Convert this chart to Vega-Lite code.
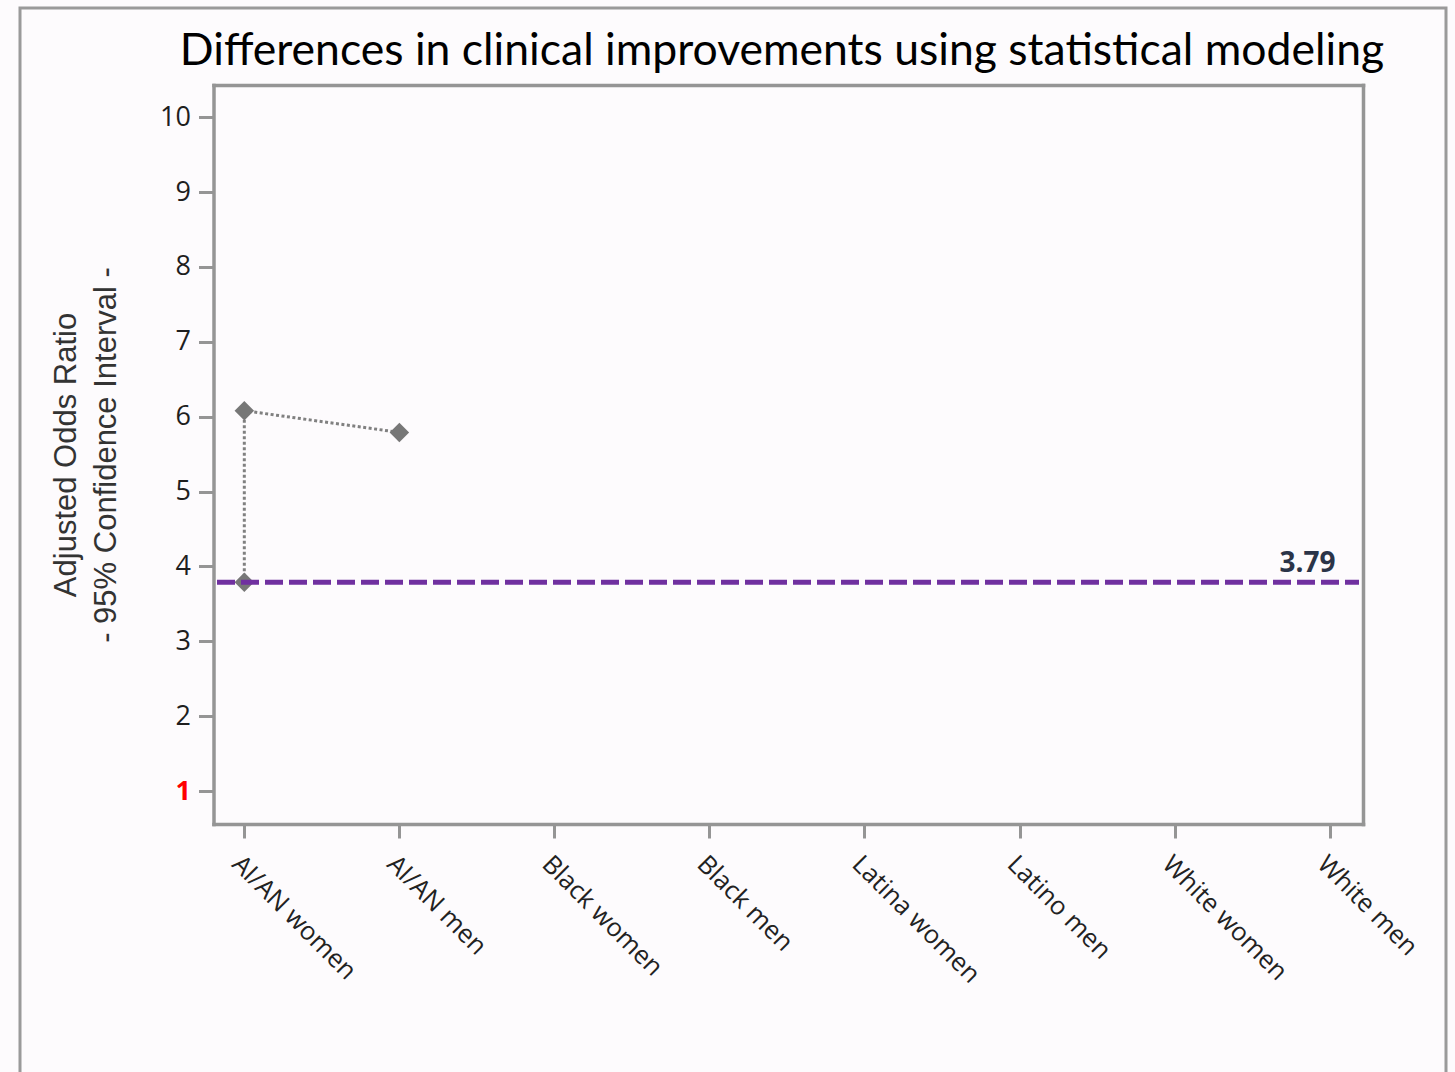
{
  "$schema": "https://vega.github.io/schema/vega-lite/v6.json",
  "width": 1426,
  "height": 1067,
  "autosize": "none",
  "padding": {"left": 20, "top": 8, "right": 9, "bottom": -3},
  "background": "#fdfbfd",
  "title": {
    "text": "Differences in clinical improvements using statistical modeling",
    "font": "Lato",
    "fontSize": 44.5,
    "fontWeight": "normal",
    "color": "#000000",
    "anchor": "middle",
    "frame": "group",
    "baseline": "alphabetic",
    "offset": -55,
    "dy": 46,
    "dx": 49
  },
  "datasets": {
    "estimates": [
      {"group": "AI/AN women", "aor": 3.79, "seq": 1},
      {"group": "AI/AN women", "aor": 6.08, "seq": 2},
      {"group": "AI/AN men", "aor": 5.79, "seq": 3}
    ],
    "reference": [
      {"label": "3.79", "aor": 3.79, "group": "White men"}
    ]
  },
  "resolve": {"scale": {"x": "independent"}, "axis": {"x": "independent", "y": "independent"}},
  "layer": [
    {
      "data": {"name": "estimates"},
      "mark": {"type": "line", "color": "#808080", "strokeWidth": 3, "strokeDash": [3, 2.5]},
      "encoding": {
        "x": {
          "field": "group", "type": "nominal", "sort": null,
          "scale": {
            "type": "point",
            "domain": ["AI/AN women", "AI/AN men", "Black women", "Black men", "Latina women", "Latino men", "White women", "White men"],
            "range": [193.5, 1343], "padding": 0.207, "align": 0.48
          },
          "axis": {
            "orient": "bottom", "offset": -251, "title": null,
            "labelAngle": 45, "labelAlign": "left", "labelBaseline": "top",
            "labelFont": "Open Sans", "labelFontSize": 25.5, "labelColor": "#222222", "labelPadding": 13,
            "tickSize": 14, "tickWidth": 3, "tickColor": "#959595",
            "domainColor": "#959595", "domainWidth": 3.5, "domainCap": "square", "grid": false
          }
        },
        "y": {
          "field": "aor", "type": "quantitative",
          "scale": {"domain": [0.56, 10.43], "range": [816, 77], "nice": false, "zero": false},
          "axis": {
            "orient": "left", "offset": -193.5,
            "values": [1, 2, 3, 4, 5, 6, 7, 8, 9, 10],
            "title": ["Adjusted Odds Ratio", "- 95% Confidence Interval -"],
            "titleFont": "Liberation Sans", "titleFontSize": 31, "titleFontWeight": "normal",
            "titleColor": "#333333", "titleLineHeight": 40, "titlePadding": 37,
            "labelFont": "Open Sans", "labelFontSize": 27, "labelPadding": 8,
            "labelColor": {"expr": "datum.value === 1 ? '#ff0000' : '#1e1e1e'"},
            "labelFontWeight": {"expr": "datum.value === 1 ? 'bold' : 'normal'"},
            "tickSize": 15, "tickWidth": 3, "tickColor": "#959595",
            "domainColor": "#959595", "domainWidth": 3.5, "domainCap": "square", "grid": false
          }
        },
        "order": {"field": "seq"}
      }
    },
    {
      "data": {"name": "estimates"},
      "mark": {"type": "point", "shape": "diamond", "filled": true, "size": 380, "color": "#777777", "opacity": 1},
      "encoding": {
        "x": {
          "field": "group", "type": "nominal", "sort": null,
          "scale": {
            "type": "point",
            "domain": ["AI/AN women", "AI/AN men", "Black women", "Black men", "Latina women", "Latino men", "White women", "White men"],
            "range": [193.5, 1343], "padding": 0.207, "align": 0.48
          },
          "axis": {
            "orient": "top", "offset": -77, "title": null, "labels": false, "ticks": false,
            "domainColor": "#959595", "domainWidth": 3.5, "domainCap": "square", "grid": false
          }
        },
        "y": {
          "field": "aor", "type": "quantitative",
          "axis": {
            "orient": "right", "offset": -83, "title": null, "labels": false, "ticks": false,
            "domainColor": "#959595", "domainWidth": 3.5, "domainCap": "square", "grid": false
          }
        }
      }
    },
    {
      "data": {"name": "reference"},
      "mark": {"type": "rule", "color": "#7030a0", "strokeWidth": 5, "strokeDash": [18, 6]},
      "encoding": {
        "x": {"datum": 0, "type": "quantitative", "scale": {"domain": [0, 1], "range": [197, 1339]}, "axis": null},
        "x2": {"datum": 1},
        "y": {"field": "aor", "type": "quantitative", "axis": null}
      }
    },
    {
      "data": {"name": "reference"},
      "mark": {"type": "text", "font": "Open Sans", "fontSize": 28, "fontWeight": "bold", "color": "#2b3448", "align": "right", "baseline": "alphabetic", "dx": 6, "dy": -10},
      "encoding": {
        "x": {
          "field": "group", "type": "nominal",
          "scale": {
            "type": "point",
            "domain": ["AI/AN women", "AI/AN men", "Black women", "Black men", "Latina women", "Latino men", "White women", "White men"],
            "range": [193.5, 1343], "padding": 0.207, "align": 0.48
          },
          "axis": null
        },
        "y": {"field": "aor", "type": "quantitative", "axis": null},
        "text": {"field": "label"}
      }
    }
  ],
  "config": {
    "view": {"stroke": "#9a9a9a", "strokeWidth": 3, "fill": "#fdfbfd"}
  }
}
